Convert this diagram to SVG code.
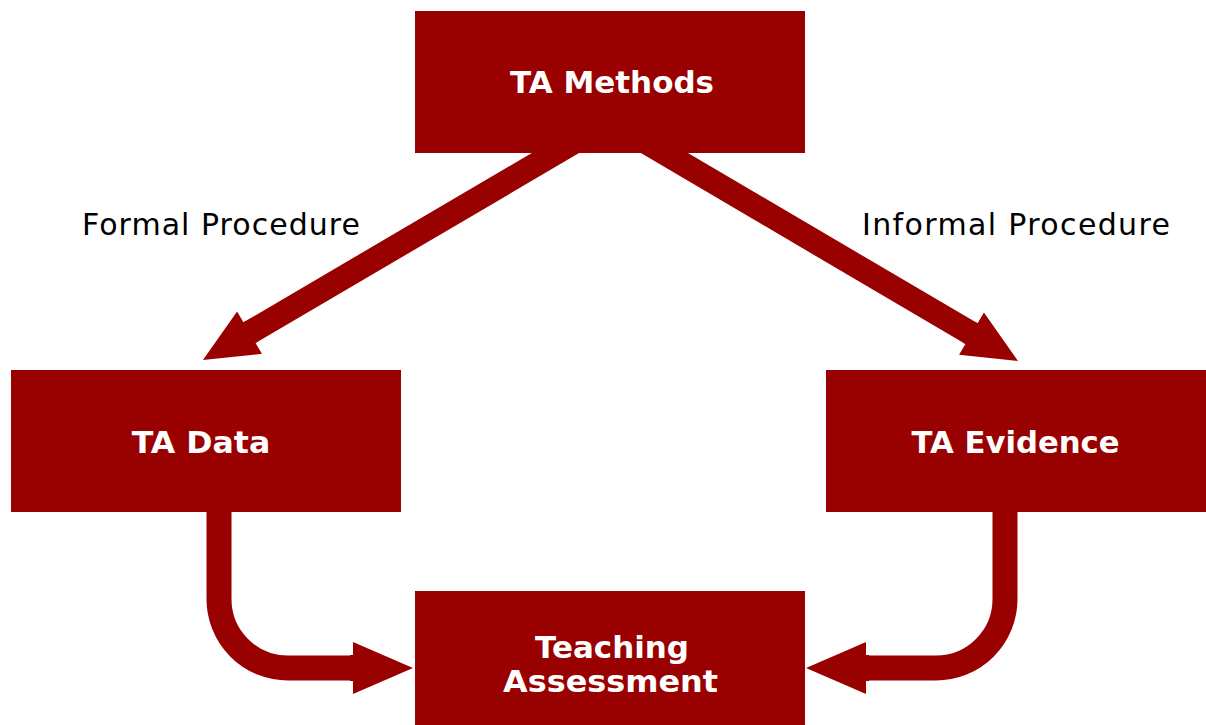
<svg xmlns="http://www.w3.org/2000/svg" width="1206" height="725" viewBox="0 0 1206 725">
  <defs>
    <style>
      .box { fill: #990000; }
      .title { fill: #ffffff; font-family: "DejaVu Sans", Verdana, sans-serif; font-weight: bold; font-size: 29.5px; text-anchor: middle; }
      .label { fill: #000000; font-family: "DejaVu Sans", Verdana, sans-serif; font-size: 30px; }
      .flow { fill: none; stroke: #990000; stroke-linejoin: round; }
      .straight { stroke-width: 24; marker-end: url(#head); }
      .bent { stroke-width: 25; marker-end: url(#headWide); }
    </style>
    <!-- arrowheads sit just past the end of the shaft -->
    <marker id="head" viewBox="-3 0 57 50" refX="0" refY="25" markerWidth="57" markerHeight="50" markerUnits="userSpaceOnUse" orient="auto" overflow="visible">
      <path d="M-3,13 L0,13 L0,0.5 L54,25 L0,49.5 L0,37 L-3,37 Z" fill="#990000"/>
    </marker>
    <marker id="headWide" viewBox="-3 0 63 52" refX="0" refY="26" markerWidth="63" markerHeight="52" markerUnits="userSpaceOnUse" orient="auto" overflow="visible">
      <path d="M-3,13 L0,13 L0,0 L60,26 L0,52 L0,39 L-3,39 Z" fill="#990000"/>
    </marker>
  </defs>

  <g id="connectors">
    <!-- TA Methods -> TA Data -->
    <path class="flow straight" d="M610,121 L249.5,332.7"/>
    <!-- TA Methods -> TA Evidence -->
    <path class="flow straight" d="M610,121 L971.5,333.7"/>
    <!-- TA Data -> Teaching Assessment -->
    <path class="flow bent" d="M219,500 V599 A69,69 0 0 0 288,668 H353"/>
    <!-- TA Evidence -> Teaching Assessment -->
    <path class="flow bent" d="M1005,500 V599 A69,69 0 0 1 936,668 H866"/>
  </g>

  <g id="node-ta-methods">
    <rect class="box" x="415" y="11" width="390" height="142"/>
    <text class="title" x="612" y="92.5" textLength="204" lengthAdjust="spacingAndGlyphs">TA Methods</text>
  </g>

  <g id="node-ta-data">
    <rect class="box" x="11" y="370" width="390" height="142"/>
    <text class="title" x="201" y="453" textLength="138.5" lengthAdjust="spacingAndGlyphs">TA Data</text>
  </g>

  <g id="node-ta-evidence">
    <rect class="box" x="826" y="370" width="390" height="142"/>
    <text class="title" x="1015.5" y="453" textLength="208" lengthAdjust="spacingAndGlyphs">TA Evidence</text>
  </g>

  <g id="node-teaching-assessment">
    <rect class="box" x="415" y="591" width="390" height="142"/>
    <text class="title" x="612" y="658" textLength="154" lengthAdjust="spacingAndGlyphs">Teaching</text>
    <text class="title" x="610.5" y="692" textLength="215" lengthAdjust="spacingAndGlyphs">Assessment</text>
  </g>

  <g id="labels">
    <text class="label" x="82" y="235" textLength="278" lengthAdjust="spacing">Formal Procedure</text>
    <text class="label" x="862" y="235" textLength="308" lengthAdjust="spacing">Informal Procedure</text>
  </g>
</svg>
